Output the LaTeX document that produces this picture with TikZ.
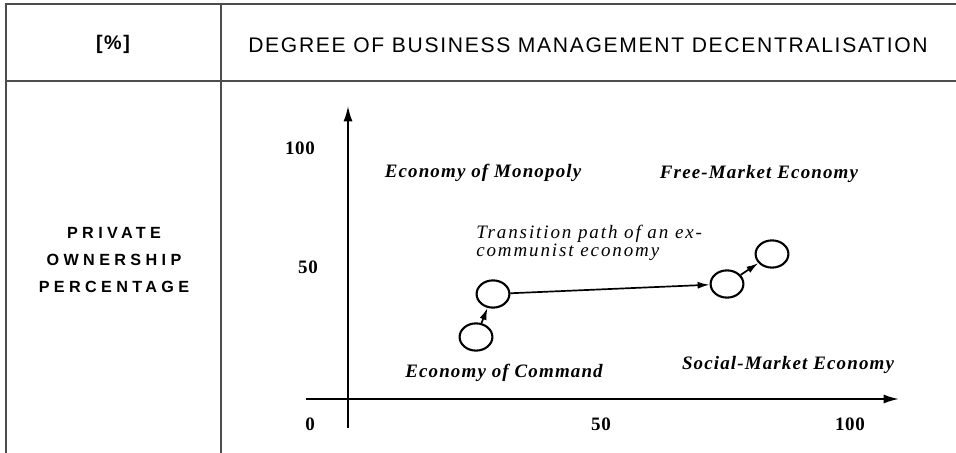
\documentclass[tikz,border=0pt]{standalone}
\usepackage{fontspec}
\setmainfont{Liberation Serif}
\setsansfont{Liberation Sans}
\newfontfamily\headfont[LetterSpace=8]{Liberation Sans}
\newfontfamily\rowfont[LetterSpace=27]{Liberation Sans}
\newfontfamily\tickfont[LetterSpace=4]{Liberation Serif}
\newfontfamily\regionfont[LetterSpace=6]{Liberation Serif}
\newfontfamily\pathfont[LetterSpace=10]{Liberation Serif}
\usetikzlibrary{arrows.meta, positioning, shapes.geometric}

\begin{document}
\begin{tikzpicture}[
    x=0.025cm, y=-0.025cm,
    rule/.style={draw=black!70, line width=1.1pt},
    axis/.style={draw, line width=1.4pt, -{Latex[length=11pt, width=6.5pt]}},
    state/.style={draw, ellipse, line width=1.5pt, minimum width=0.82cm, minimum height=0.68cm, inner sep=0pt},
    move/.style={draw, line width=1.2pt, -{Latex[length=8.5pt, width=5pt]}},
    head/.style={font=\headfont\fontsize{15}{17}\selectfont},
    rowlabel/.style={font=\rowfont\bfseries\fontsize{11.5}{19}\selectfont, align=center},
    region/.style={font=\regionfont\bfseries\itshape\fontsize{13.5}{15}\selectfont},
    tick/.style={font=\tickfont\bfseries\fontsize{13.5}{15}\selectfont},
    note/.style={font=\pathfont\itshape\fontsize{13.5}{12.8}\selectfont, align=left, inner sep=0pt}
]
    \useasboundingbox (0,0) rectangle (956,453);

    % table frame
    \draw[rule] (956,4) -- (6,4) -- (6,453);
    \draw[rule] (221,4) -- (221,453);
    \draw[rule] (6,81) -- (956,81);

    % header row
    \node[head, font=\headfont\bfseries\fontsize{14}{16}\selectfont] (unit) at (113,44) {[\%]};
    \node[head] (title) at (588,45) {DEGREE OF BUSINESS MANAGEMENT DECENTRALISATION};
    \node[rowlabel] (share) at (114,260) {PRIVATE\\OWNERSHIP\\PERCENTAGE};

    % axes
    \coordinate (yfoot) at (348,428);
    \coordinate (ytop) at (348,106);
    \coordinate (xfoot) at (306,399);
    \coordinate (xtop) at (899,399);
    \draw[axis] (yfoot) -- (ytop);
    \draw[axis] (xfoot) -- (xtop);

    % scale values
    \node[tick] (y100) at (300,148) {100};
    \node[tick] (y50) at (308,267) {50};
    \node[tick] (y0) at (310,424) {0};
    \node[tick] (x50) at (601,424) {50};
    \node[tick] (x100) at (850,424) {100};

    % economic systems
    \node[region] (monopoly) at (483,173) {Economy of Monopoly};
    \node[region] (free) at (759,174) {Free-Market Economy};
    \node[region] (command) at (504,373) {Economy of Command};
    \node[region] (social) at (788,365) {Social-Market Economy};

    % transition path
    \node[note, anchor=west] (path) at (476,243) {Transition path of an ex-\\communist economy};
    \node[state] (s1) at (476,337) {};
    \node[state] (s2) at (493,294) {};
    \node[state] (s3) at (727,284) {};
    \node[state] (s4) at (772,254) {};
    \draw[move] (s1) -- (s2);
    \draw[move] (s2) -- (s3);
    \draw[move] (s3) -- (s4);
\end{tikzpicture}
\end{document}
